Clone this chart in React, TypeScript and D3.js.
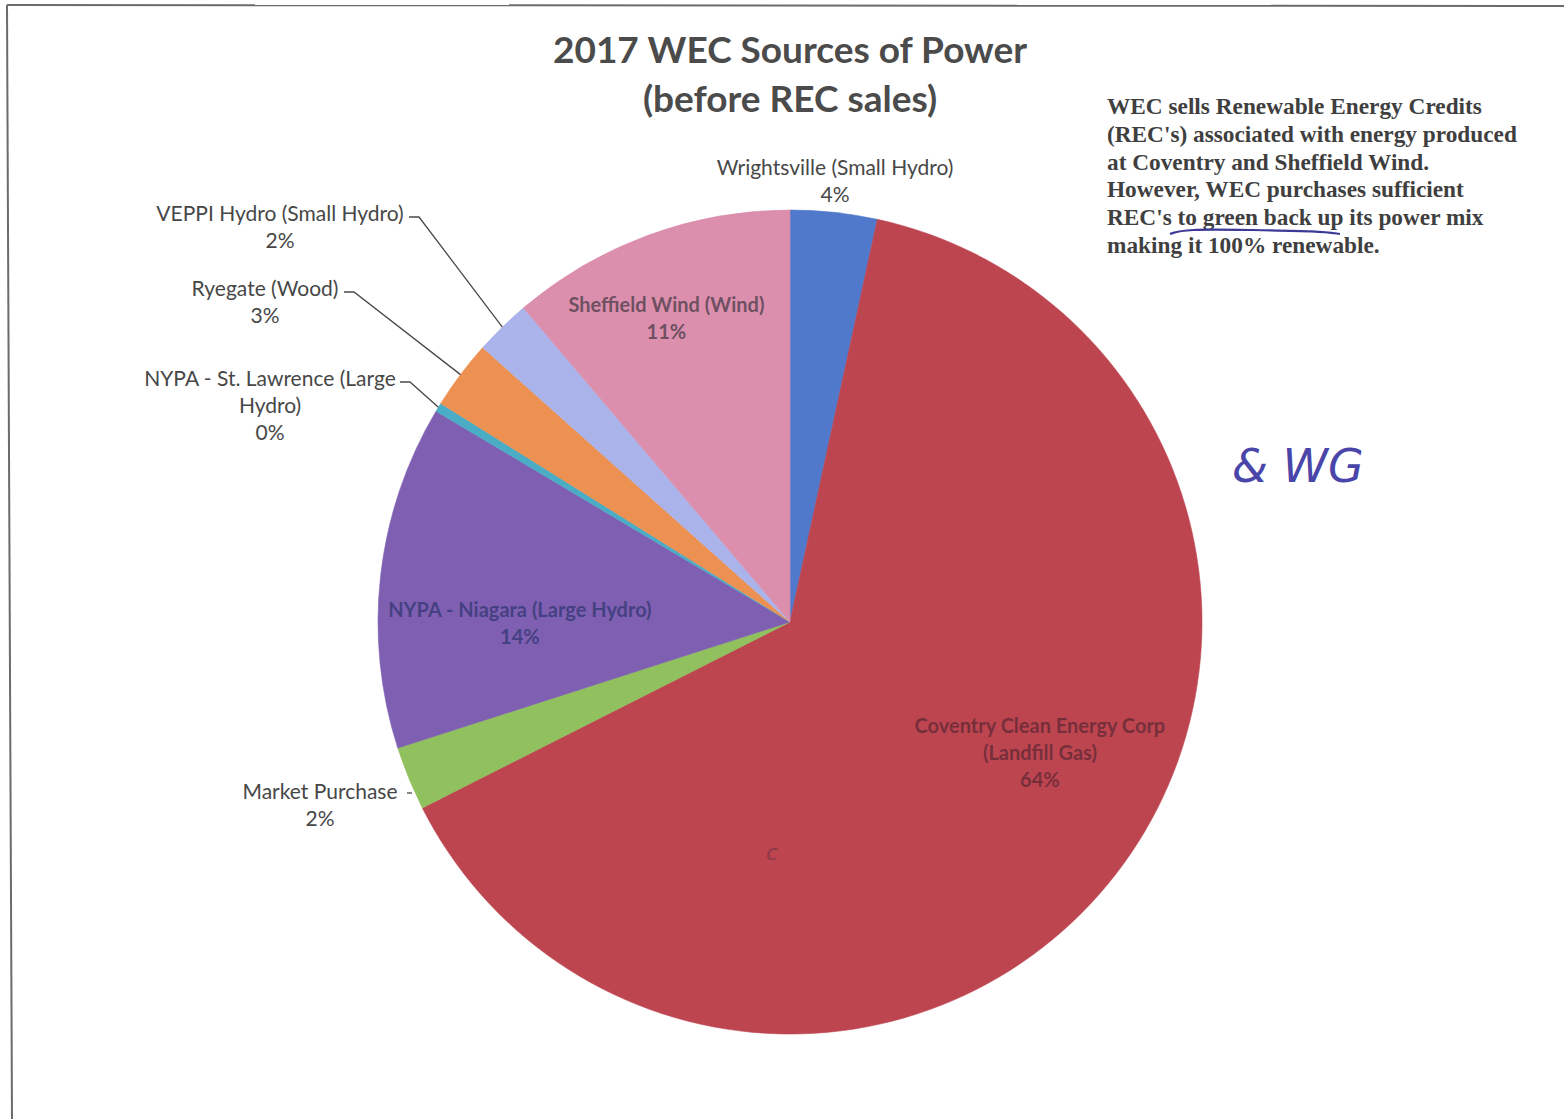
import { useEffect, useRef } from "react";
import * as d3 from "d3";

// Slice order follows the chart, clockwise from 12 o'clock
const categories = [
  "Wrightsville (Small Hydro)",
  "Coventry Clean Energy Corp (Landfill Gas)",
  "Market Purchase",
  "NYPA - Niagara (Large Hydro)",
  "NYPA - St. Lawrence (Large Hydro)",
  "Ryegate (Wood)",
  "VEPPI Hydro (Small Hydro)",
  "Sheffield Wind (Wind)",
];
const shares = [3.4, 64.15, 2.5, 13.5, 0.35, 2.7, 2.2, 11.2];
const percentLabels = ["4%", "64%", "2%", "14%", "0%", "3%", "2%", "11%"];
const colors = [
  "#5079cc",
  "#bd4550",
  "#91c05f",
  "#7e5fb2",
  "#4bacc6",
  "#ec9152",
  "#abb4ea",
  "#db8fad",
];

const noteLines = [
  "WEC sells Renewable Energy Credits",
  "(REC's) associated with energy produced",
  "at Coventry and Sheffield Wind.",
  "However, WEC purchases sufficient",
  "REC's to green back up its power mix",
  "making it 100% renewable.",
];

const W = 1564;
const H = 1119;
const PIE = { cx: 790, cy: 622, r: 412 };

// label layout: inside labels sit on a ring, outside labels sit in a text box
type LabelLayout =
  | { kind: "inside"; frac: number; dx: number; dy: number; lines: string[]; fill: string }
  | { kind: "outside"; x: number; y: number; lines: string[]; leader: boolean; endX: number };

const LABELS: LabelLayout[] = [
  { kind: "outside", x: 835, y: 175, lines: ["Wrightsville (Small Hydro)"], leader: false, endX: 0 },
  { kind: "inside", frac: 0.69, dx: 25, dy: -43, lines: ["Coventry Clean Energy Corp", "(Landfill Gas)"], fill: "#6a2b37" },
  { kind: "outside", x: 320, y: 799, lines: ["Market Purchase"], leader: false, endX: 407 },
  { kind: "inside", frac: 0.655, dx: -2, dy: 32, lines: ["NYPA - Niagara (Large Hydro)"], fill: "#3a3b78" },
  { kind: "outside", x: 270, y: 386, lines: ["NYPA - St. Lawrence (Large", "Hydro)"], leader: true, endX: 400 },
  { kind: "outside", x: 265, y: 296, lines: ["Ryegate (Wood)"], leader: true, endX: 344 },
  { kind: "outside", x: 280, y: 221, lines: ["VEPPI Hydro (Small Hydro)"], leader: true, endX: 409 },
  { kind: "inside", frac: 0.8, dx: -10, dy: 6, lines: ["Sheffield Wind (Wind)"], fill: "#5a4553" },
];

export default function App() {
  const svgRef = useRef<SVGSVGElement>(null);

  useEffect(() => {
    if (!svgRef.current) return;
    const svg = d3.select(svgRef.current);
    svg.selectAll("*").remove();

    svg.append("rect").attr("width", W).attr("height", H).attr("fill", "#fff");

    // scanned page border
    svg.append("line").attr("x1", 7).attr("x2", W).attr("y1", 5).attr("y2", 6)
      .attr("stroke", "#6b6b6b").attr("stroke-width", 2);
    svg.append("line").attr("x1", 7).attr("x2", 12).attr("y1", 5).attr("y2", H)
      .attr("stroke", "#6b6b6b").attr("stroke-width", 2);

    // title
    const title = svg.append("g").attr("font-family", "Lato, 'Open Sans', sans-serif")
      .attr("font-weight", "bold").attr("fill", "#4b4b4b").attr("text-anchor", "middle");
    title.append("text").attr("x", PIE.cx).attr("y", 63).attr("font-size", 37)
      .text("2017 WEC Sources of Power");
    title.append("text").attr("x", PIE.cx).attr("y", 112).attr("font-size", 37)
      .text("(before REC sales)");

    const data = categories.map((name, i) => ({ name, value: shares[i], i }));
    const pie = d3.pie<typeof data[0]>().sort(null).value((d) => d.value);
    const arcs = pie(data);
    const arc = d3.arc<d3.PieArcDatum<typeof data[0]>>().innerRadius(0).outerRadius(PIE.r);

    const g = svg.append("g").attr("transform", `translate(${PIE.cx},${PIE.cy})`);
    g.selectAll("path.slice")
      .data(arcs)
      .enter()
      .append("path")
      .attr("class", "slice")
      .attr("d", arc)
      .attr("fill", (d) => colors[d.data.i])
      .attr("stroke", (d) => colors[d.data.i])
      .attr("stroke-width", 0.6);

    const edgeArc = d3.arc<d3.PieArcDatum<typeof data[0]>>().innerRadius(PIE.r).outerRadius(PIE.r);
    const labels = svg.append("g").attr("font-family", "Lato, 'Open Sans', sans-serif")
      .attr("text-anchor", "middle");

    arcs.forEach((a) => {
      const lay = LABELS[a.data.i];
      const pct = percentLabels[a.data.i];
      if (lay.kind === "inside") {
        const ring = d3.arc<d3.PieArcDatum<typeof data[0]>>()
          .innerRadius(PIE.r * lay.frac).outerRadius(PIE.r * lay.frac);
        const [x, y] = ring.centroid(a);
        const lines = [...lay.lines, pct];
        const y0 = PIE.cy + y + lay.dy - ((lines.length - 1) * 27) / 2;
        lines.forEach((t, k) => {
          labels.append("text")
            .attr("x", PIE.cx + x + lay.dx)
            .attr("y", y0 + k * 27 + 7)
            .attr("font-size", 20)
            .attr("font-weight", "bold")
            .attr("fill", lay.fill)
            .attr("fill-opacity", 0.85)
            .text(t);
        });
      } else {
        const lines = [...lay.lines, pct];
        lines.forEach((t, k) => {
          labels.append("text")
            .attr("x", lay.x)
            .attr("y", lay.y + k * 27)
            .attr("font-size", 21)
            .attr("fill", "#474747")
            .text(t);
        });
        if (lay.endX) {
          const [ex, ey] = edgeArc.centroid(a);
          const sx = lay.endX;
          const sy = lay.y - 4;
          const pts: [number, number][] = lay.leader
            ? [[sx, sy], [sx + 10, sy], [PIE.cx + ex, PIE.cy + ey]]
            : [[sx, sy - 2], [sx + 5, sy - 2]];
          svg.append("path")
            .attr("d", d3.line()(pts))
            .attr("fill", "none")
            .attr("stroke", "#4a4a4a")
            .attr("stroke-width", 1.3);
        }
      }
    });

    // side note
    const note = svg.append("g").attr("font-family", "'Liberation Serif', 'Times New Roman', serif")
      .attr("font-weight", "bold").attr("fill", "#3f3f3f").attr("font-size", 23.3);
    noteLines.forEach((t, k) => {
      note.append("text").attr("x", 1107).attr("y", 114 + k * 27.8).text(t);
    });

    // handwritten marks
    svg.append("path")
      .attr("d", d3.line().curve(d3.curveBasis)([[1170, 234], [1185, 229], [1250, 230], [1320, 231], [1340, 234]]))
      .attr("fill", "none").attr("stroke", "#3c3a96").attr("stroke-width", 2.2);
    svg.append("text").attr("x", 1232).attr("y", 482)
      .attr("font-family", "'DejaVu Sans', sans-serif").attr("font-style", "italic")
      .attr("font-size", 46).attr("fill", "#4a45a8").attr("font-weight", 200)
      .text("& WG");
    svg.append("text").attr("x", 766).attr("y", 860)
      .attr("font-family", "'DejaVu Sans', sans-serif").attr("font-style", "italic")
      .attr("font-size", 22).attr("fill", "#8a3a48")
      .text("c");
  }, []);

  return (
    <div style={{ position: "absolute", left: 0, top: 0 }}>
      <svg ref={svgRef} width={W} height={H} style={{ display: "block" }} />
    </div>
  );
}
